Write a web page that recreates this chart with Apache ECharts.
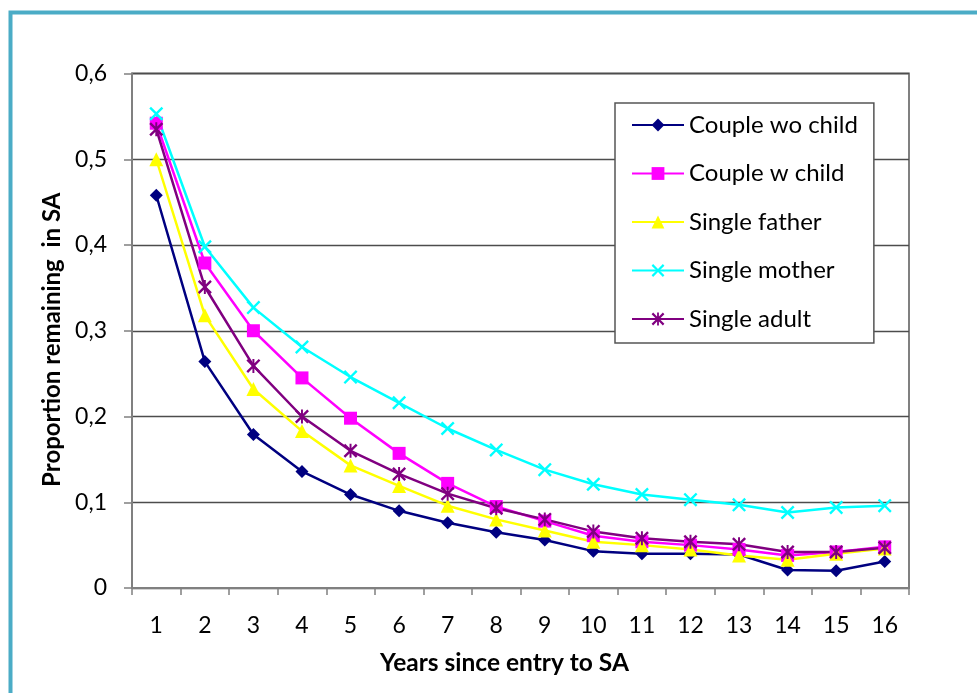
<!DOCTYPE html>
<html>
<head>
<meta charset="utf-8">
<script src="https://cdn.jsdelivr.net/npm/echarts@6/dist/echarts.min.js"></script>
<style>
    html, body { margin: 0; padding: 0; background: #fff; }
    #chart_div { width: 977px; height: 693px; }
</style>
</head>
<body>
<div id="chart_div"></div>
<script>
// ----------- 数据 -----------
var years = ['1', '2', '3', '4', '5', '6', '7', '8', '9', '10', '11', '12', '13', '14', '15', '16']
var couple_wo_child = [0.458, 0.264, 0.179, 0.136, 0.109, 0.090, 0.076, 0.065, 0.056, 0.043, 0.040, 0.040, 0.039, 0.021, 0.020, 0.031]
var couple_w_child = [0.542, 0.379, 0.300, 0.245, 0.198, 0.157, 0.122, 0.095, 0.078, 0.061, 0.054, 0.050, 0.045, 0.038, 0.042, 0.048]
var single_father = [0.500, 0.318, 0.232, 0.183, 0.143, 0.119, 0.096, 0.080, 0.067, 0.054, 0.050, 0.045, 0.038, 0.033, 0.040, 0.046]
var single_mother = [0.553, 0.398, 0.327, 0.281, 0.246, 0.216, 0.186, 0.161, 0.138, 0.121, 0.109, 0.103, 0.097, 0.088, 0.094, 0.096]
var single_adult = [0.535, 0.351, 0.259, 0.200, 0.160, 0.133, 0.110, 0.093, 0.080, 0.066, 0.058, 0.054, 0.051, 0.042, 0.042, 0.047]

var series_names = ['Couple wo child', 'Couple w child', 'Single father', 'Single mother', 'Single adult']
var series_data = [couple_wo_child, couple_w_child, single_father, single_mother, single_adult]
var colorList = ['#000080', '#ff00ff', '#ffff00', '#00ffff', '#800080']

// 标记形状: 叉 和 星号
var d = 1.2
var cross_path = 'M0,' + d + 'L' + d + ',0L5,' + (5 - d) + 'L' + (10 - d) + ',0L10,' + d + 'L' + (5 + d) + ',5L10,' + (10 - d) +
    'L' + (10 - d) + ',10L5,' + (5 + d) + 'L' + d + ',10L0,' + (10 - d) + 'L' + (5 - d) + ',5Z'
var star_path = cross_path + 'M4.3,0L5.7,0L5.7,10L4.3,10Z'
var symbols = ['diamond', 'rect', 'triangle', 'path://' + cross_path, 'path://' + star_path]
var symbol_sizes = [13, 13, 14, 14, 14]

var font = 'Lato, "Open Sans", sans-serif'

var series = []
for (var i = 0; i < series_names.length; i++) {
    series.push({
        name: series_names[i],
        type: 'line',
        data: series_data[i],
        symbol: symbols[i],
        symbolSize: symbol_sizes[i],
        showAllSymbol: true,
        color: colorList[i],
        lineStyle: { width: 2.5, color: colorList[i] },
        itemStyle: { color: colorList[i] },
        animation: false
    })
}

var chart = echarts.init(document.getElementById('chart_div'))
var option = {
    animation: false,
    textStyle: { fontFamily: font },
    grid: {
        left: 132,
        right: 68,
        top: 73.5,
        bottom: 105,
        show: true,
        borderColor: '#808080',
        borderWidth: 2,
        containLabel: false
    },
    xAxis: {
        type: 'category',
        data: years,
        boundaryGap: true,
        name: 'Years since entry to SA',
        nameLocation: 'middle',
        nameGap: 63,
        nameTextStyle: { fontFamily: font, fontSize: 24.5, fontWeight: 'bold', color: '#000', padding: [0, 32, 0, 0] },
        axisLine: { lineStyle: { color: '#808080', width: 2 } },
        axisTick: { show: true, alignWithLabel: false, length: 7, lineStyle: { color: '#808080', width: 1.5 } },
        axisLabel: { fontFamily: font, fontSize: 23, color: '#000', margin: 26 }
    },
    yAxis: {
        type: 'value',
        min: 0,
        max: 0.6,
        interval: 0.1,
        name: 'Proportion remaining  in SA',
        nameLocation: 'middle',
        nameGap: 66.5,
        nameRotate: 90,
        nameTextStyle: { fontFamily: font, fontSize: 24, fontWeight: 'bold', color: '#000', padding: [0, 18, 0, 0] },
        axisLine: { show: true, lineStyle: { color: '#808080', width: 2 } },
        axisTick: { show: true, length: 8, lineStyle: { color: '#808080', width: 1.5 } },
        axisLabel: {
            fontFamily: font, fontSize: 23, color: '#000', margin: 25,
            formatter: function (value) {
                return (Math.round(value * 10) / 10).toString().replace('.', ',')
            }
        },
        splitLine: { show: true, lineStyle: { color: '#4d4d4d', width: 1.3 } }
    },
    legend: {
        orient: 'vertical',
        left: 615,
        top: 103,
        padding: [7, 16, 9, 16],
        itemWidth: 52,
        itemHeight: 16,
        itemGap: 18.5,
        backgroundColor: '#fff',
        borderColor: '#555',
        borderWidth: 1.5,
        data: series_names,
        textStyle: { fontFamily: font, fontSize: 24, color: '#000', lineHeight: 30 }
    },
    // 外框
    graphic: [{
        type: 'rect',
        shape: { x: 10.5, y: 12.5, width: 1100, height: 1000 },
        style: { fill: 'none', stroke: '#4bacc6', lineWidth: 4 },
        silent: true
    }],
    series: series
}

chart.setOption(option)
</script>
</body>
</html>
